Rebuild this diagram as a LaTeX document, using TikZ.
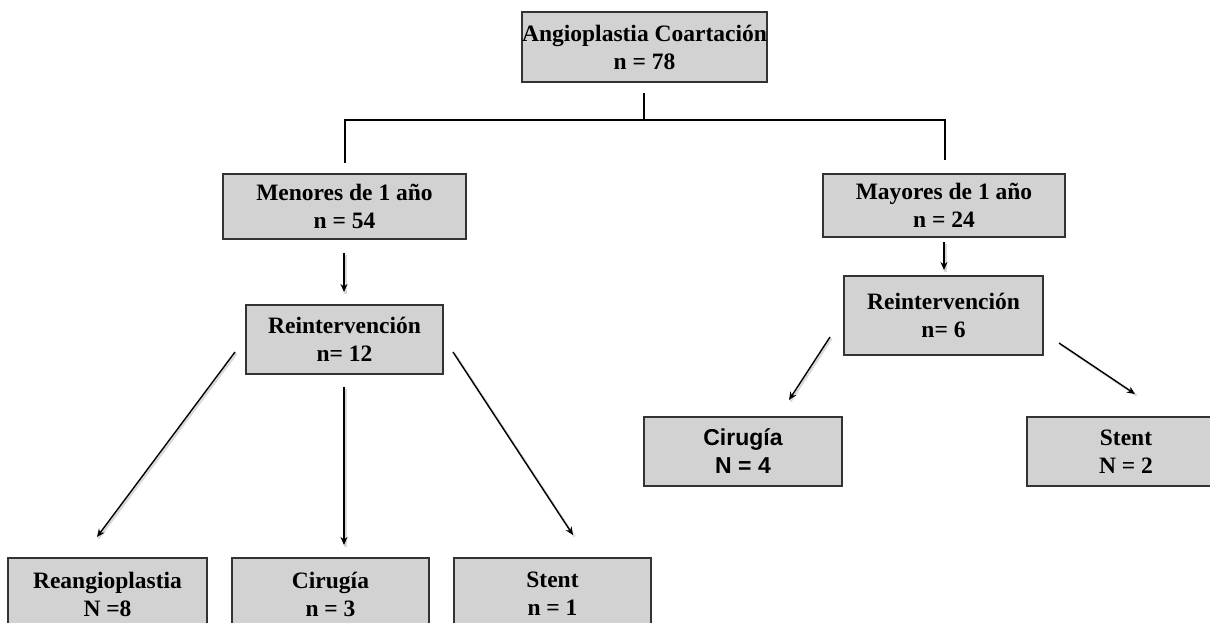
\documentclass[tikz,border=0pt]{standalone}
\usepackage{fontspec}
\setmainfont{Liberation Serif}
\newfontfamily\helv{Liberation Sans}
\usetikzlibrary{arrows.meta}

\tikzset{
  box/.style={draw=black!80, line width=1.4pt, fill=gray!35, inner sep=0pt,
    align=center, font=\fontsize{23.5}{28}\selectfont\bfseries},
  link/.style={draw=black, line width=1.4pt},
  flow/.style={link, -{Stealth[length=8pt,width=7pt]}},
  shade/.style={draw=black!25, line width=2.2pt, opacity=0.6}
}

\begin{document}
\begin{tikzpicture}[x=1pt, y=-1pt]
  \path[use as bounding box, clip] (0,0) rectangle (1210,622);

  % boxes
  \node[box, minimum width=245pt, minimum height=70pt] (top)  at (644.5,47)   {Angioplastia Coartación\\n = 78};
  \node[box, minimum width=243pt, minimum height=65pt] (men)  at (344.5,206.5) {Menores de 1 año\\n = 54};
  \node[box, minimum width=242pt, minimum height=63pt] (may)  at (944,205.5)   {Mayores de 1 año\\n = 24};
  \node[box, minimum width=197pt, minimum height=69pt] (reiL) at (344.5,339.5) {Reintervención\\n= 12};
  \node[box, minimum width=199pt, minimum height=79pt] (reiR) at (943.5,315.5) {Reintervención\\n= 6};
  \node[box, minimum width=199pt, minimum height=72pt] (reang) at (107.5,594) {Reangioplastia\\N =8};
  \node[box, minimum width=197pt, minimum height=72pt] (cirL) at (330.5,594)  {Cirugía\\n = 3};
  \node[box, minimum width=197pt, minimum height=72pt] (stL)  at (552.5,594)  {Stent\\n = 1};
  \node[box, minimum width=198pt, minimum height=69pt,
        font=\fontsize{23}{28}\selectfont\helv\bfseries] (cirR) at (743,451.5) {Cirugía\\N = 4};
  \node[box, minimum width=198pt, minimum height=69pt] (stR)  at (1126,451.5) {Stent\\N = 2};

  % connector end points (connectors stop short of the boxes)
  \coordinate (t0) at (644,93);
  \coordinate (t1) at (644,120);
  \coordinate (hl) at (345,120);
  \coordinate (hr) at (945,120);
  \coordinate (ml) at (345,163);
  \coordinate (mr) at (945,160);
  \coordinate (m0) at (344,253);  \coordinate (m1) at (344,292);
  \coordinate (y0) at (944,242);  \coordinate (y1) at (944,270);
  \coordinate (a0) at (235,352);  \coordinate (a1) at (97,537);
  \coordinate (b0) at (344,387);  \coordinate (b1) at (344,545);
  \coordinate (c0) at (453,352);  \coordinate (c1) at (573,535);
  \coordinate (d0) at (830,337);  \coordinate (d1) at (789,400);
  \coordinate (e0) at (1059,343); \coordinate (e1) at (1135,394);

  % soft shadows under the arrows
  \foreach \p/\q in {m0/m1, y0/y1, a0/a1, b0/b1, c0/c1, d0/d1, e0/e1}
    \draw[shade] ([shift={(1.5,1.5)}]\p) -- ([shift={(1.5,1.5)}]\q);

  % split from the root
  \draw[link] (t0) -- (t1);
  \draw[link] (ml) -- (hl) -- (hr) -- (mr);

  % arrows
  \draw[flow] (m0) -- (m1);
  \draw[flow] (y0) -- (y1);
  \draw[flow] (a0) -- (a1);
  \draw[flow] (b0) -- (b1);
  \draw[flow] (c0) -- (c1);
  \draw[flow] (d0) -- (d1);
  \draw[flow] (e0) -- (e1);
\end{tikzpicture}
\end{document}
